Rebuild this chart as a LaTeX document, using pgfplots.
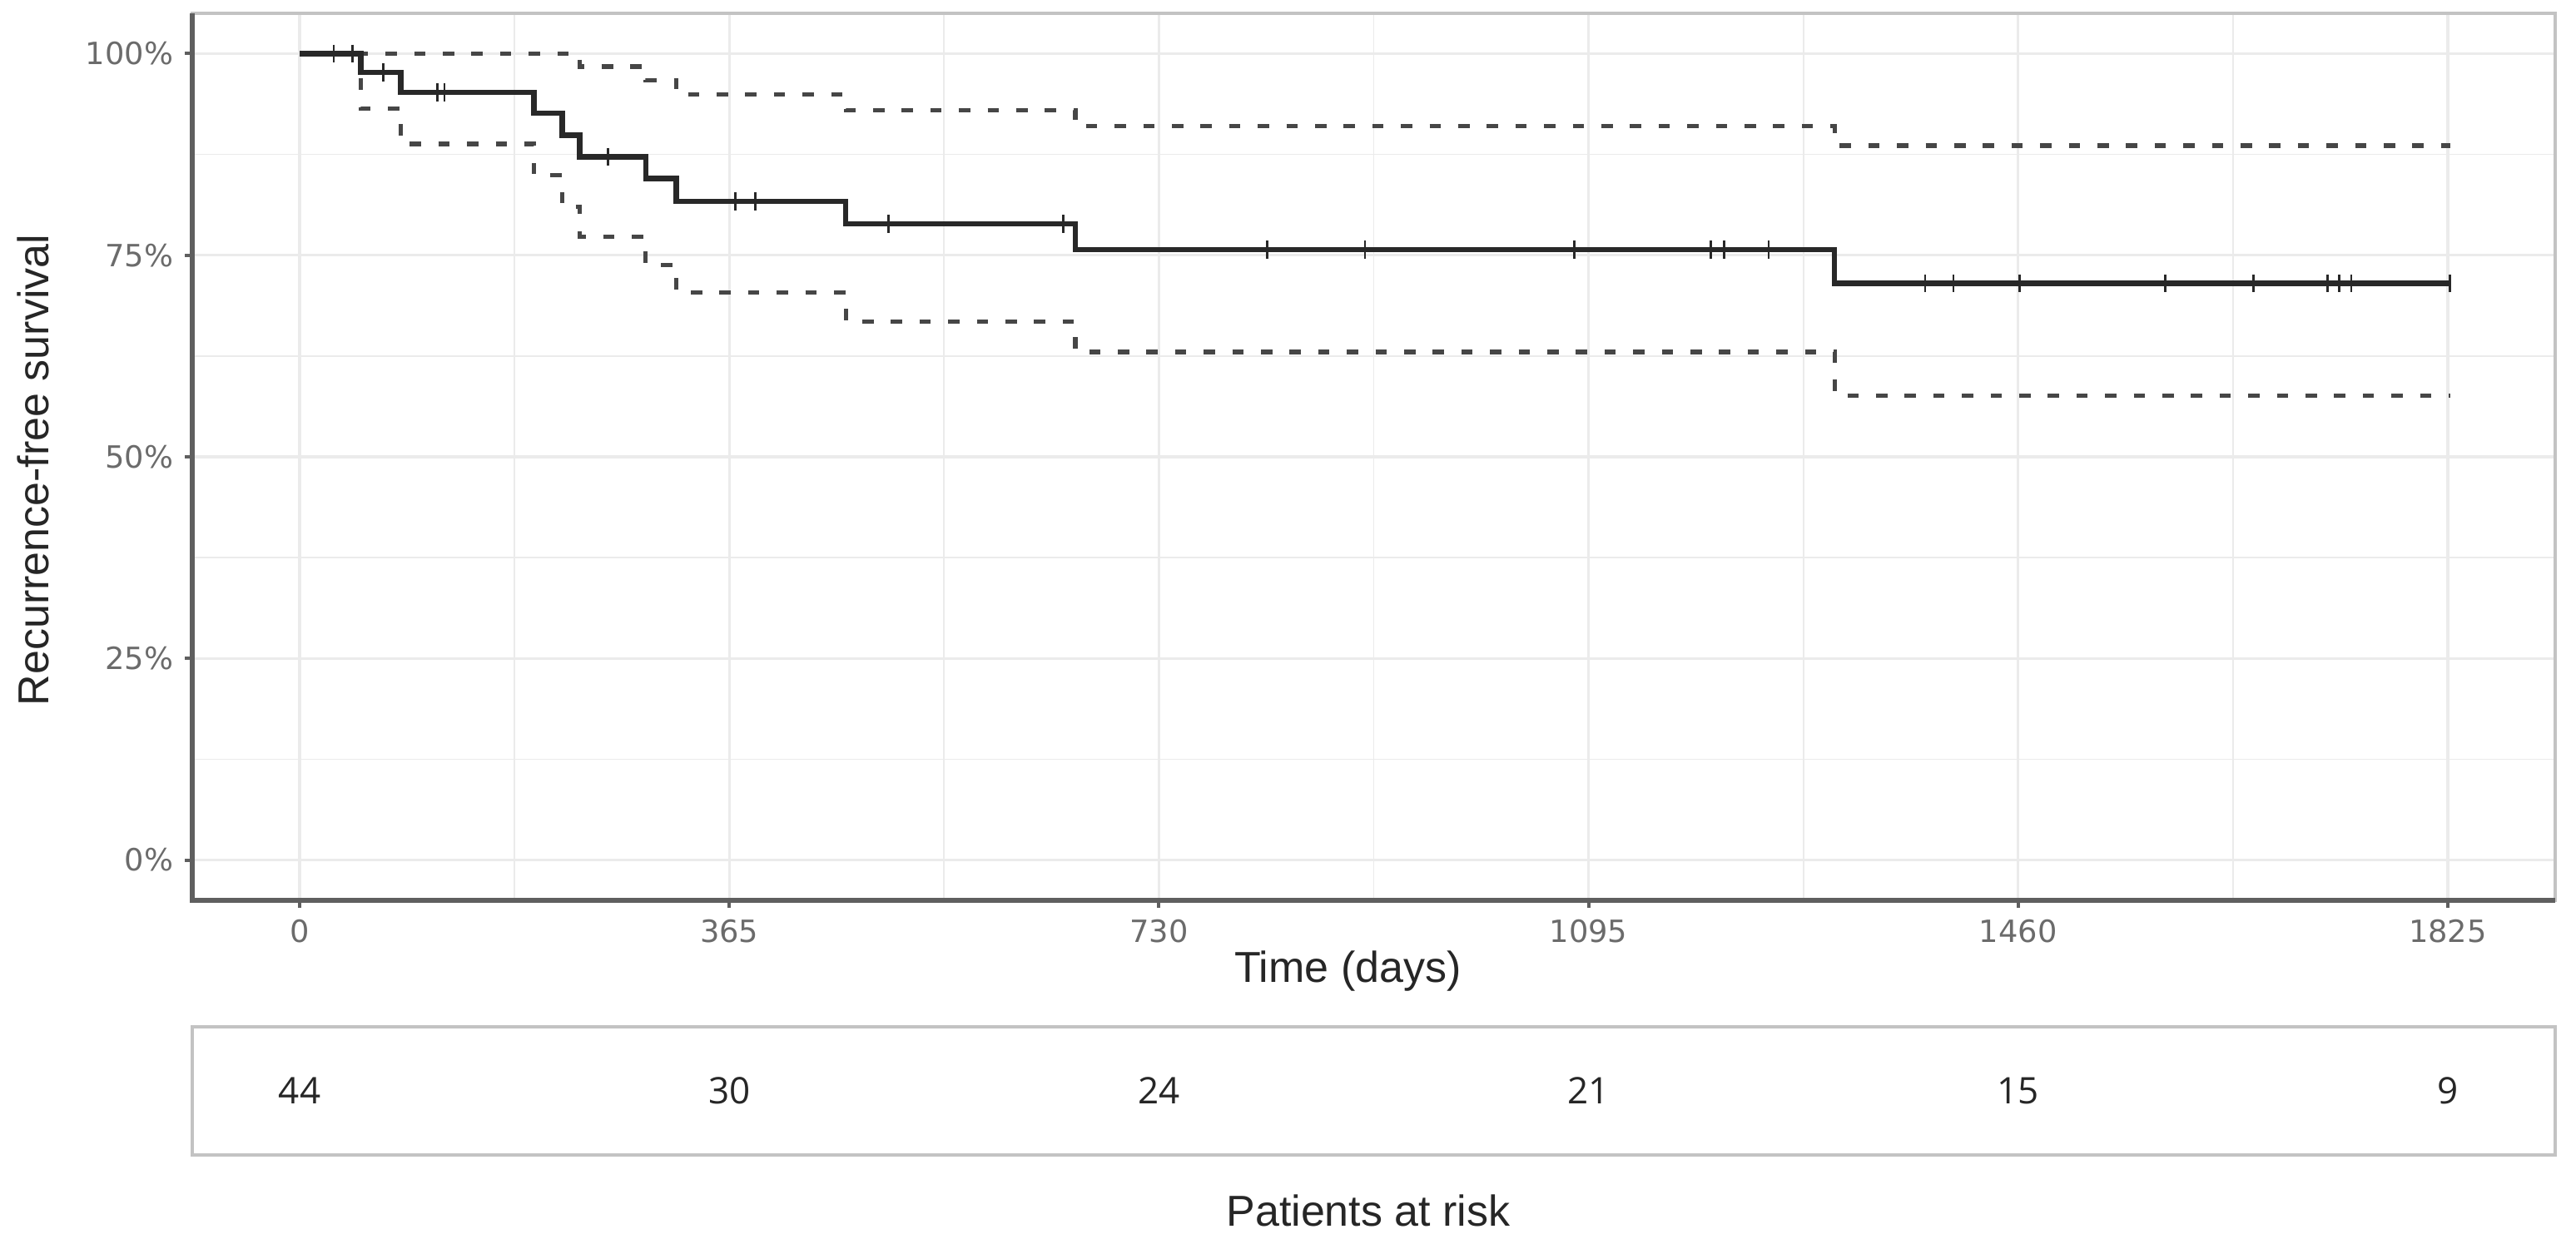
\documentclass[border=0pt]{standalone}
\usepackage{pgfplots}
\pgfplotsset{compat=1.18}
\usepackage{fontspec}
\setmainfont{Liberation Sans}
\newfontfamily\tickfont{DejaVu Sans}
\newfontfamily\riskfont{Open Sans}
\definecolor{gridc}{RGB}{235,235,235}
\definecolor{axisc}{RGB}{95,95,95}
\definecolor{framec}{RGB}{195,195,195}
\definecolor{cic}{RGB}{70,70,70}
\definecolor{kmc}{RGB}{40,40,40}

% Kaplan-Meier estimate (step changes)
\pgfplotstableread{
t s
0 1
52 0.977
86 0.952
199 0.926
223 0.899
238 0.872
294 0.845
320 0.817
464 0.789
659 0.757
1304 0.715
1827 0.715
}\kmtable

\pgfplotstableread{
t s
0 1
238 0.984
294 0.967
320 0.949
464 0.930
659 0.910
1304 0.886
1827 0.886
}\uppertable

\pgfplotstableread{
t s
0 1
52 0.932
86 0.888
199 0.849
223 0.810
238 0.773
294 0.738
320 0.704
464 0.668
659 0.630
1304 0.576
1827 0.576
}\lowertable

% censored observations
\pgfplotstableread{
t s
29 1
45 1
71 0.977
117 0.952
123 0.952
262 0.872
370 0.817
387 0.817
500 0.789
649 0.789
822 0.757
905 0.757
1083 0.757
1199 0.757
1210 0.757
1248 0.757
1381 0.715
1405 0.715
1461 0.715
1585 0.715
1660 0.715
1723 0.715
1733 0.715
1743 0.715
1827 0.715
}\censtable

\pgfplotstableread{
x y n
0 0.5 44
365 0.5 30
730 0.5 24
1095 0.5 21
1460 0.5 15
1825 0.5 9
}\risktable

\begin{document}
\begin{tikzpicture}
\useasboundingbox (0,0) rectangle (773.75pt,-373.75pt);
\begin{axis}[
  at={(57.75pt,-4pt)}, anchor=north west,
  width=709.75pt, height=266.5pt, scale only axis,
  xmin=-91.25, xmax=1916.25, ymin=-0.05, ymax=1.05,
  xtick={0,365,730,1095,1460,1825},
  xticklabels={0,365,730,1095,1460,1825},
  minor xtick={182.5,547.5,912.5,1277.5,1642.5},
  ytick={0,0.25,0.5,0.75,1},
  yticklabels={0\%,25\%,50\%,75\%,100\%},
  minor ytick={0.125,0.375,0.625,0.875},
  grid=both,
  major grid style={gridc, line width=0.8pt},
  minor grid style={gridc, line width=0.45pt},
  tick align=outside, tick pos=left,
  major tick length=2.2pt, minor tick length=0pt,
  every tick/.style={axisc, line width=1pt},
  axis line style={framec, line width=0.9pt},
  ticklabel style={font=\tickfont\fontsize{9.2}{10}\selectfont, text=black!58},
  xlabel={Time (days)},
  ylabel={Recurrence-free survival},
  label style={font=\fontsize{13}{15}\selectfont, text=black!85},
  xlabel style={at={(axis description cs:0.489,0)}, anchor=center, yshift=-21.25pt},
  ylabel style={at={(axis description cs:-0.0674,0.485)}, anchor=center},
  after end axis/.append code={
    \draw[axisc, line width=1.6pt] (rel axis cs:0,1) -- (rel axis cs:0,0) -- (rel axis cs:1,0);
  },
]
\addplot[const plot, cic, line width=1.3pt, dash pattern=on 3.4pt off 5.2pt] table[x=t, y=s] {\uppertable};
\addplot[const plot, cic, line width=1.3pt, dash pattern=on 3.4pt off 5.2pt] table[x=t, y=s] {\lowertable};
\addplot[const plot, kmc, line width=1.6pt] table[x=t, y=s] {\kmtable};
\addplot[only marks, mark=|, mark size=2.7pt, mark options={kmc, line width=0.7pt}] table[x=t, y=s] {\censtable};
\end{axis}

\begin{axis}[
  at={(57.75pt,-308.5pt)}, anchor=north west,
  width=709.75pt, height=38.5pt, scale only axis,
  xmin=-91.25, xmax=1916.25, ymin=0, ymax=1,
  ticks=none,
  axis line style={framec, line width=1pt},
  xlabel={Patients at risk},
  xlabel style={at={(axis description cs:0.4977,0)}, anchor=center, yshift=-16.75pt,
    font=\fontsize{13}{15}\selectfont, text=black!85},
]
\addplot[draw=none, mark=none, nodes near coords, point meta=explicit symbolic,
  nodes near coords style={anchor=center, font=\riskfont\fontsize{11}{12}\selectfont, text=black!85}]
  table[x=x, y=y, meta=n] {\risktable};
\end{axis}
\end{tikzpicture}
\end{document}
